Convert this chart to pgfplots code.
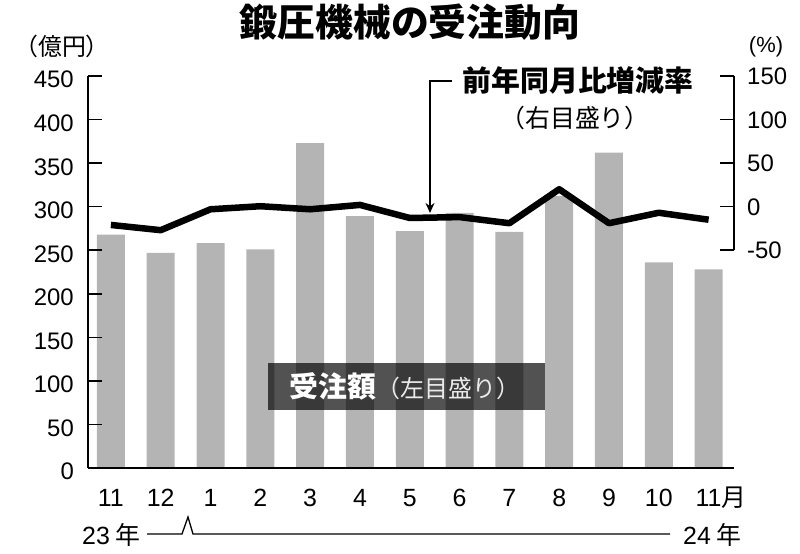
\documentclass[border=0pt]{standalone}
\usepackage{fontspec}
\setmainfont{Liberation Sans}
\newfontfamily\jp{Noto Sans CJK JP}
\usepackage{pgfplots}
\pgfplotsset{compat=1.18}
\usetikzlibrary{arrows.meta}
\definecolor{bargray}{HTML}{B4B4B4}
\begin{document}
\begin{tikzpicture}[x=1bp,y=1bp]
\begin{axis}[
  at={(88bp,86bp)}, anchor=south west, scale only axis,
  width=646bp, height=392bp,
  xmin=-0.46, xmax=12.51, ymin=0, ymax=450,
  axis x line*=bottom, axis y line*=left,
  axis line style={-, line width=1.6bp, black},
  ytick={0,50,...,450},
  xtick={0,...,12},
  xticklabels={11,12,1,2,3,4,5,6,7,8,9,10,11\rlap{\jp 月}},
  x tick style={draw=none},
  tick align=inside, major tick length=14bp,
  y tick style={line width=1.6bp, black},
  /pgf/number format/assume math mode=true,
  yticklabel style={font=\fontsize{24}{24}\selectfont, anchor=base east, inner sep=0pt, xshift=-14bp, yshift=-12bp},
  xticklabel style={font=\fontsize{25}{25}\selectfont, anchor=base, inner sep=0pt, yshift=-39bp},
  axis on top,
]
\addplot[ybar, bar width=28bp, fill=bargray, draw=none] coordinates {
 (0,268) (1,247) (2,258) (3,251) (4,373) (5,289) (6,272)
 (7,293) (8,271) (9,312) (10,362) (11,236) (12,228)};
\end{axis}
\begin{axis}[
  at={(88bp,86bp)}, anchor=south west, scale only axis,
  width=646bp, height=392bp,
  xmin=-0.46, xmax=12.51, ymin=-300, ymax=150,
  axis x line=none, axis y line*=right,
  y axis line style={draw=none},
  ytick={-50,0,...,150},
  tick align=inside, major tick length=14bp,
  y tick style={line width=1.6bp, black},
  /pgf/number format/assume math mode=true,
  yticklabel style={font=\fontsize{24}{24}\selectfont, anchor=base west, inner sep=0pt, xshift=13bp, yshift=-8.6bp},
  clip=false,
]
\addplot[line width=6.5bp, black, line join=round, mark=none] coordinates {
 (0,-21) (1,-27) (2,-3) (3,0.5) (4,-3) (5,2) (6,-13)
 (7,-12) (8,-19) (9,20) (10,-19) (11,-7) (12,-15)};
\draw[line width=1.6bp] (axis cs:12.51,-50) -- (axis cs:12.51,150);
\end{axis}
% title and annotations
\node[font=\jp\bfseries\fontsize{38}{38}\selectfont, inner sep=0pt] at (410,532) {鍛圧機械の受注動向};
\node[font=\jp\fontsize{24}{24}\selectfont, inner sep=0pt] at (62,508) {（億円）};
\node[font=\fontsize{22}{22}\selectfont, inner sep=0pt] at (766,507) {(\%)};
\node[font=\jp\bfseries\fontsize{29}{29}\selectfont, inner sep=0pt] at (578,474) {前年同月比増減率};
\node[font=\jp\fontsize{25}{25}\selectfont, inner sep=0pt] at (575,436) {（右目盛り）};
\draw[line width=1.5bp, -{Stealth[length=10bp,width=9bp]}] (452,473) -- (430,473) -- (430,341);
\fill[black, opacity=0.68] (268,144) rectangle (545,191);
\node[text=white, inner sep=0pt] at (405,167.5) {{\jp\bfseries\fontsize{29}{29}\selectfont 受注額}{\jp\color{black!8}\fontsize{24}{24}\selectfont （左目盛り）}};
% year line
\draw[line width=1.3bp] (147,20) -- (182,20) -- (188,37) -- (193,20) -- (670,20);
\node[anchor=base west, inner sep=0pt, font=\fontsize{25}{25}\selectfont] at (82,9) {23\hspace{6bp}{\jp 年}};
\node[anchor=base west, inner sep=0pt, font=\fontsize{25}{25}\selectfont] at (683,9) {24\hspace{6bp}{\jp 年}};
\pgfresetboundingbox
\useasboundingbox (0,0) rectangle (800,554);
\end{tikzpicture}
\end{document}
